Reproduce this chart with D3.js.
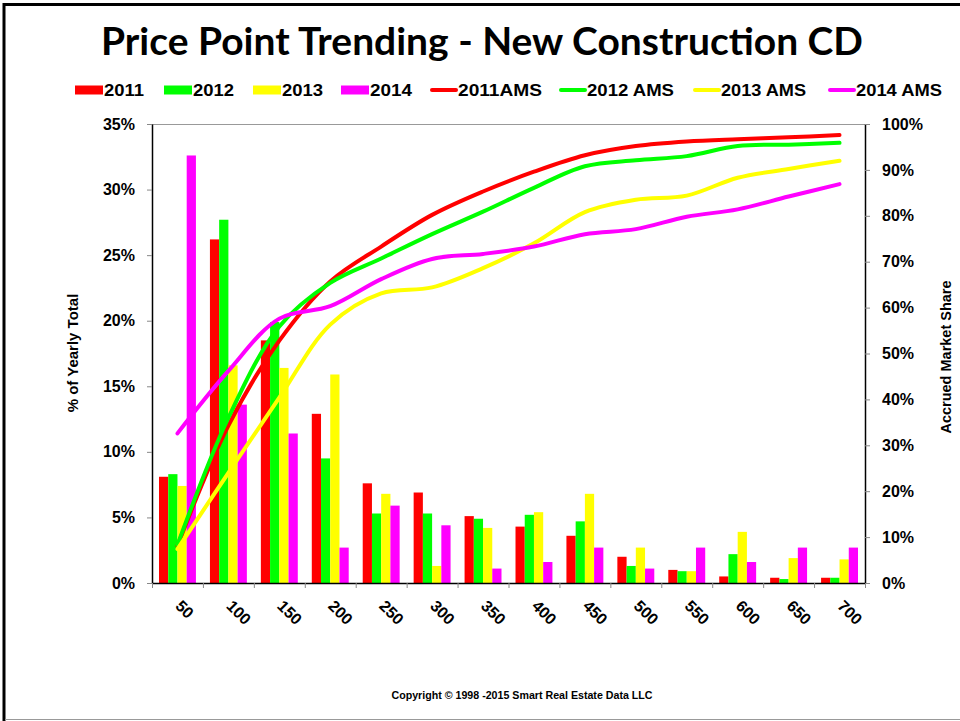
<!DOCTYPE html>
<html><head><meta charset="utf-8">
<script src="https://cdn.jsdelivr.net/npm/d3@7/dist/d3.min.js"></script>
<style>body{margin:0;background:#fff}svg{display:block}</style>
</head><body>
<svg id="c" width="960" height="721"></svg>
<script>
// ---- data ----
const categories = ["50","100","150","200","250","300","350","400","450","500","550","600","650","700"];
const years = ["2011","2012","2013","2014"];
const bars2011 = [8.1, 26.2, 18.5, 12.9, 7.6, 6.9, 5.1, 4.3, 3.6, 2.0, 1.0, 0.5, 0.4, 0.4];
const bars2012 = [8.3, 27.7, 19.9, 9.5, 5.3, 5.3, 4.9, 5.2, 4.7, 1.3, 0.9, 2.2, 0.3, 0.4];
const bars2013 = [7.4, 16.6, 16.4, 15.9, 6.8, 1.3, 4.2, 5.4, 6.8, 2.7, 0.9, 3.9, 1.9, 1.8];
const bars2014 = [32.6, 13.6, 11.4, 2.7, 5.9, 4.4, 1.1, 1.6, 2.7, 1.1, 2.7, 1.6, 2.7, 2.7];
const ams2011 = [8.1, 34.3, 52.8, 65.7, 73.3, 80.2, 85.3, 89.6, 93.2, 95.2, 96.2, 96.7, 97.1, 97.6];
const ams2012 = [8.3, 36.0, 55.9, 65.4, 70.7, 76.0, 80.9, 86.1, 90.8, 92.1, 93.0, 95.2, 95.5, 95.9];
const ams2013 = [7.4, 24.0, 40.4, 56.3, 63.1, 64.4, 68.6, 74.0, 80.8, 83.5, 84.4, 88.3, 90.2, 92.0];
const ams2014 = [32.6, 46.2, 57.6, 60.3, 66.2, 70.6, 71.7, 73.3, 76.0, 77.1, 79.8, 81.4, 84.2, 86.9];
const leftTicks = [0,5,10,15,20,25,30,35];
const rightTicks = [0,10,20,30,40,50,60,70,80,90,100];
const barLegend = ["2011","2012","2013","2014"];
const lineLegend = ["2011AMS","2012 AMS","2013 AMS","2014 AMS"];

// ---- styles ----
const colors = ["#ff0000","#00ff00","#ffff00","#ff00ff"];
const FONT = "'Liberation Sans', Arial, sans-serif";

const svg = d3.select("#c");
// frame
svg.append("rect").attr("x",0).attr("y",0).attr("width",960).attr("height",721).attr("fill","#fff");
svg.append("line").attr("x1",4).attr("x2",4).attr("y1",3).attr("y2",721).attr("stroke","#000").attr("stroke-width",3);
svg.append("line").attr("x1",3).attr("x2",960).attr("y1",4.5).attr("y2",4.5).attr("stroke","#000").attr("stroke-width",3);
svg.append("line").attr("x1",5).attr("x2",960).attr("y1",719.5).attr("y2",719.5).attr("stroke","#999").attr("stroke-width",1);

const L = 152, R = 865, T = 124, B = 583;

// title
svg.append("text").attr("x",482).attr("y",55).attr("text-anchor","middle")
  .attr("font-family","Lato, 'Open Sans', sans-serif").attr("font-weight","bold").attr("font-size",38)
  .attr("textLength",762).attr("lengthAdjust","spacingAndGlyphs")
  .text("Price Point Trending - New Construction CD");

// scales
const x0 = d3.scaleBand().domain(categories).range([L,R]).paddingInner(0.275).paddingOuter(0.1375);
const x1 = d3.scaleBand().domain(years).range([0, x0.bandwidth()]);
const xb = d3.scaleLinear().domain([0, categories.length]).range([L,R]);
const yL = d3.scaleLinear().domain([0,35]).range([B,T]);
const yR = d3.scaleLinear().domain([0,100]).range([B,T]);

// bars
const barSeries = [bars2011, bars2012, bars2013, bars2014];
barSeries.forEach((vals, si) => {
  svg.append("g").selectAll("rect").data(vals).join("rect")
    .attr("x", (d,i) => x0(categories[i]) + x1(years[si]))
    .attr("width", x1.bandwidth())
    .attr("y", d => yL(d))
    .attr("height", d => B - yL(d))
    .attr("fill", colors[si]);
});

// plot frame top
svg.append("line").attr("x1",L).attr("x2",R).attr("y1",T+0.5).attr("y2",T+0.5).attr("stroke","#999").attr("stroke-width",1);

// axes
const gL = svg.append("g").attr("transform",`translate(${L},0)`)
  .call(d3.axisLeft(yL).tickValues(leftTicks).tickFormat(d => d + "%").tickSize(5).tickPadding(12).tickSizeOuter(0));
const gR = svg.append("g").attr("transform",`translate(${R},0)`)
  .call(d3.axisRight(yR).tickValues(rightTicks).tickFormat(d => d + "%").tickSize(5).tickPadding(12).tickSizeOuter(0));
const gB = svg.append("g").attr("transform",`translate(0,${B})`)
  .call(d3.axisBottom(xb).tickValues(d3.range(categories.length+1)).tickFormat("").tickSize(5).tickSizeOuter(0));
const gBL = svg.append("g").attr("transform",`translate(0,${B})`)
  .call(d3.axisBottom(x0).tickSize(0).tickSizeOuter(0));
gBL.select(".domain").remove();
gBL.selectAll("text").attr("x",0).attr("y",0).attr("dy","0.35em")
  .attr("transform","translate(1,20) rotate(45)").attr("text-anchor","start");

[gL,gR,gB].forEach(g => {
  g.select(".domain").attr("stroke","#000").attr("stroke-width",1.5);
  g.selectAll(".tick line").attr("stroke","#888");
});
[gL,gR,gBL].forEach(g => {
  g.selectAll("text").attr("font-family",FONT).attr("font-weight","bold").attr("font-size",16).attr("fill","#000");
});

// axis titles
svg.append("text").attr("transform","translate(78,353) rotate(-90)").attr("text-anchor","middle")
  .attr("font-family",FONT).attr("font-weight","bold").attr("font-size",15).text("% of Yearly Total");
svg.append("text").attr("transform","translate(951,357) rotate(-90)").attr("text-anchor","middle")
  .attr("font-family",FONT).attr("font-weight","bold").attr("font-size",14.5).text("Accrued Market Share");

// lines
const amsSeries = [ams2011, ams2012, ams2013, ams2014];
const line = d3.line()
  .x((d,i) => x0(categories[i]) + x0.bandwidth()/2)
  .y(d => yR(d))
  .curve(d3.curveCatmullRom.alpha(0.5));
amsSeries.forEach((vals, si) => {
  svg.append("path").datum(vals).attr("d", line).attr("fill","none")
    .attr("stroke", colors[si]).attr("stroke-width",4).attr("stroke-linecap","round").attr("stroke-linejoin","round");
});

// legend
const barLegX = [75, 164, 253, 341];
const barTextW = [40, 41, 41, 42];
const lineLegX = [430, 559, 693, 828];
const lineTextW = [84, 87, 85, 86];
const legY = 90;
const lg = svg.append("g").attr("font-family",FONT).attr("font-weight","bold").attr("font-size",16);
barLegend.forEach((t,i) => {
  lg.append("rect").attr("x",barLegX[i]).attr("y",legY-4.5).attr("width",28).attr("height",9).attr("fill",colors[i]);
  lg.append("text").attr("x",barLegX[i]+29).attr("y",legY+6).attr("textLength",barTextW[i]).attr("lengthAdjust","spacingAndGlyphs").text(t);
});
lineLegend.forEach((t,i) => {
  lg.append("line").attr("x1",lineLegX[i]+2).attr("x2",lineLegX[i]+26).attr("y1",legY).attr("y2",legY)
    .attr("stroke",colors[i]).attr("stroke-width",4).attr("stroke-linecap","round");
  lg.append("text").attr("x",lineLegX[i]+28).attr("y",legY+6).attr("textLength",lineTextW[i]).attr("lengthAdjust","spacingAndGlyphs").text(t);
});

// footer
svg.append("text").attr("x",522).attr("y",699).attr("text-anchor","middle")
  .attr("font-family",FONT).attr("font-weight","bold").attr("font-size",10)
  .attr("textLength",261).attr("lengthAdjust","spacingAndGlyphs")
  .text("Copyright © 1998 -2015 Smart Real Estate Data LLC");
</script>
</body></html>
